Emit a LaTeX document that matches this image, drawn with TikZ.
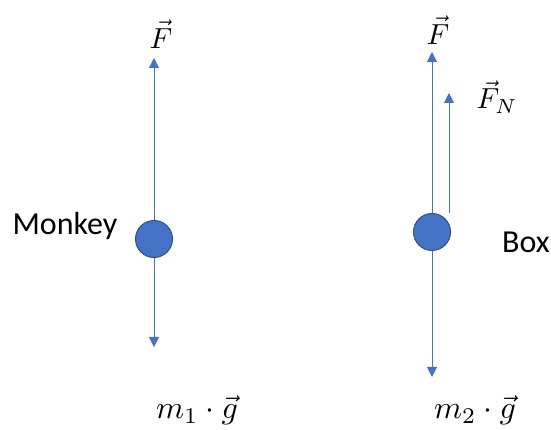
\documentclass[tikz,border=0pt]{standalone}
\usepackage{amsmath}
\usepackage{fontspec}
\setsansfont{Carlito}
\usetikzlibrary{arrows.meta,positioning}
\definecolor{forceblue}{RGB}{68,114,196}
\definecolor{bodyedge}{RGB}{47,82,143}

\begin{document}
\begin{tikzpicture}[x=1pt,y=1pt,
force/.style={draw=forceblue,line width=.8pt,-{Triangle[width=10pt,length=10pt]},fill=forceblue},
body/.style={circle,draw=bodyedge,line width=1pt,fill=forceblue,minimum size=37pt,inner sep=0pt},
bodytext/.style={font=\sffamily\fontsize{32}{36}\selectfont}]
\useasboundingbox (0,0) rectangle (551,430);
% monkey
\node[body] (M) at (154,191) {};
\node[bodytext] (Mtext) at (65,204) {Monkey};
\coordinate (Mup) at (154,372);
\coordinate (Mdown) at (154,83);
\draw[force] (M) -- (Mup);
\draw[force] (M) -- (Mdown);
\node (MF) at (161,396) {\scalebox{2.9}{$\vec{F}$}};
\node (Mg) at (197,20) {\scalebox{3.2}{$m_1\cdot\vec{g}$}};
% box
\node[body] (B) at (432,198) {};
\node[bodytext] (Btext) at (526,188) {Box};
\coordinate (Bup) at (432,378);
\coordinate (Bdown) at (432,53);
\coordinate (Nbase) at (449,217);
\coordinate (Nup) at (449,337);
\draw[force] (B) -- (Bup);
\draw[force] (B) -- (Bdown);
\draw[force] (Nbase) -- (Nup);
\node (BF) at (438,400) {\scalebox{2.9}{$\vec{F}$}};
\node (BN) at (497,333) {\scalebox{2.9}{$\vec{F}_N$}};
\node (Bg) at (475,20) {\scalebox{3.2}{$m_2\cdot\vec{g}$}};
\end{tikzpicture}
\end{document}
